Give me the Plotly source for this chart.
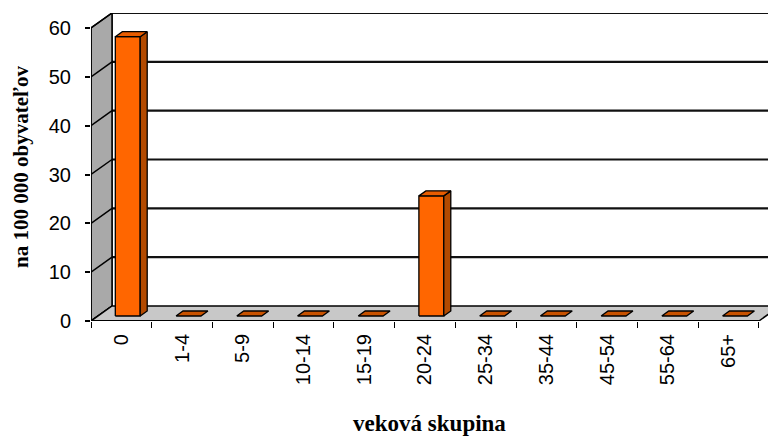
import plotly.graph_objects as go

categories = ["0", "1-4", "5-9", "10-14", "15-19", "20-24", "25-34", "35-44", "45-54", "55-64", "65+"]
values = [57.2, 0, 0, 0, 0, 24.6, 0, 0, 0, 0, 0]
y_ticks = [0, 10, 20, 30, 40, 50, 60]

# 3D geometry (in data units)
DX = 0.346   # depth shift along x (categories)
DY = 3.07    # depth shift along y (value units)
BW = 0.41    # bar width
YMAX = 60
n = len(categories)
x_lo, x_hi = -0.5, n - 0.5

fig = go.Figure()

def poly(xs, ys, fill, line="black", lw=1.2):
    fig.add_trace(go.Scatter(x=xs + [xs[0]], y=ys + [ys[0]], mode="lines", fill="toself",
                             fillcolor=fill, line=dict(color=line, width=lw),
                             hoverinfo="skip", showlegend=False))

def seg(xs, ys, color="black", lw=1.5):
    fig.add_trace(go.Scatter(x=xs, y=ys, mode="lines", line=dict(color=color, width=lw),
                             hoverinfo="skip", showlegend=False))

# back wall gridlines
for v in y_ticks[1:]:
    seg([x_lo + DX, x_hi + DX + 1], [v + DY, v + DY], color="#111111", lw=2.2)
# back-left vertical edge
seg([x_lo + DX, x_lo + DX], [DY, YMAX + DY], lw=1.5)

# left wall
poly([x_lo, x_lo + DX, x_lo + DX, x_lo], [0, DY, YMAX + DY, YMAX], "#a9a9a9", lw=1.5)
for v in y_ticks:
    seg([x_lo, x_lo + DX], [v, v + DY], lw=1.5)

# floor
poly([x_lo, x_hi, x_hi + DX, x_lo + DX], [0, 0, DY, DY], "#c8c8c8", lw=1.5)

# front axis lines
seg([x_lo, x_lo], [0, YMAX], lw=1.5)
seg([x_lo, x_hi], [0, 0], lw=2)

# bars (3D columns: front, top, side faces)
f = 1 / 3.0
b = DY * f
xc = [i + DX * f - 0.01 for i in range(n)]
for i, v in enumerate(values):
    x0 = xc[i] - BW / 2
    x1 = xc[i] + BW / 2
    if v > 0:
        poly([x0, x1, x1, x0], [b, b, v + b, v + b], "#ff6600", lw=1.3)
        poly([x1, x1 + DX * f, x1 + DX * f, x1], [b, 2 * b, v + 2 * b, v + b], "#b34a00", lw=1.3)
        top_col = "#e85c00"
    else:
        top_col = "#c85200"
    poly([x0, x1, x1 + DX * f, x0 + DX * f], [v + b, v + b, v + 2 * b, v + 2 * b], top_col, lw=1.3)

fig.update_layout(
    width=768, height=440,
    margin=dict(l=91, r=0, t=13, b=119),
    plot_bgcolor="white", paper_bgcolor="white",
    xaxis=dict(range=[x_lo, 10.65], tickvals=list(range(n)), ticktext=categories,
               tickangle=-90, ticks="", showgrid=False, zeroline=False, showline=False,
               automargin=False, ticklabelstandoff=8,
               tickfont=dict(family="Liberation Sans, Arial", size=20, color="black"),
               minor=dict(ticks="outside", ticklen=6, tickcolor="black", tickwidth=1,
                          tick0=-0.5, dtick=1, showgrid=False),
               title=dict(text="<b>veková skupina</b>", standoff=30,
                          font=dict(family="Liberation Serif, Times New Roman", size=23, color="black"))),
    yaxis=dict(range=[0, YMAX + DY], tickvals=y_ticks, ticks="outside", ticklen=5,
               tickcolor="black", tickwidth=1.5, showgrid=False, zeroline=False, showline=False,
               automargin=False, ticklabelstandoff=10,
               tickfont=dict(family="Liberation Sans, Arial", size=20, color="black"),
               title=dict(text="<b>na 100 000 obyvateľov</b>", standoff=14,
                          font=dict(family="Liberation Serif, Times New Roman", size=21, color="black"))),
)

fig.write_html("out.html", config={"displayModeBar": False},
               post_script="document.body.style.margin='0';")
